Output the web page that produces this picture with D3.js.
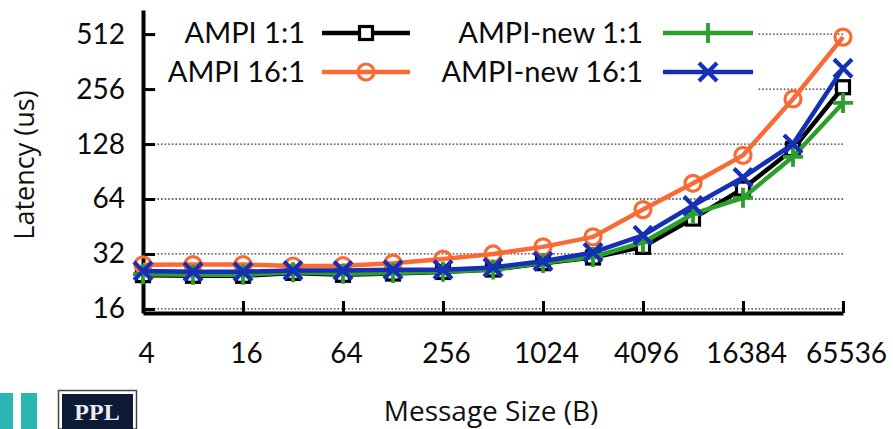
<!DOCTYPE html>
<html>
<head>
<meta charset="utf-8">
<script src="https://cdn.jsdelivr.net/npm/d3@7/dist/d3.min.js"></script>
<style>
  html, body { margin: 0; padding: 0; background: #fff; }
  svg { display: block; }
</style>
</head>
<body>
<svg id="chart" width="893" height="429"></svg>
<script>
// ---- data ----
const sizes = [4, 8, 16, 32, 64, 128, 256, 512, 1024, 2048, 4096, 8192, 16384, 32768, 65536];
const xTicks = [4, 16, 64, 256, 1024, 4096, 16384, 65536];
const yTicks = [16, 32, 64, 128, 256, 512];
const ampi11   = [24.5, 24.3, 24.3, 25.2, 24.6, 25.0, 25.5, 26.3, 28.5, 30.6, 35.0, 50.0, 73.0, 120, 262];
const ampi161  = [27.9, 28.0, 28.0, 27.5, 27.6, 28.5, 30.0, 32.0, 35.0, 39.7, 56.0, 78.0, 111, 226, 493];
const ampiNew11  = [24.8, 24.6, 24.6, 25.4, 24.9, 25.2, 25.6, 26.3, 28.6, 30.8, 37.0, 53.0, 65.0, 109, 215];
const ampiNew161 = [25.8, 25.6, 25.6, 26.0, 26.0, 26.2, 26.2, 27.0, 29.2, 32.6, 40.5, 59.0, 84.0, 128, 333];
const seriesNames = ["AMPI 1:1", "AMPI 16:1", "AMPI-new 1:1", "AMPI-new 16:1"];

const series = [
  { name: seriesNames[0], values: ampi11, color: "#000000", marker: "square" },
  { name: seriesNames[1], values: ampi161, color: "#f96a35", marker: "circle" },
  { name: seriesNames[2], values: ampiNew11, color: "#2c9e2c", marker: "plus" },
  { name: seriesNames[3], values: ampiNew161, color: "#1530b5", marker: "cross" }
];

const svg = d3.select("#chart");
const tickFont = "Lato, 'Open Sans', sans-serif";
const labelFont = "'Open Sans', 'Noto Sans', sans-serif";

const x = d3.scaleLog().base(2).domain([4, 65536]).range([143, 843]);
const y = d3.scaleLog().base(2).domain([15.2, 694]).range([313, 10]);

// grid
const grid = svg.append("g");
grid.selectAll("line").data(yTicks).join("line")
  .attr("x1", x(4)).attr("x2", x(65536))
  .attr("y1", d => y(d)).attr("y2", d => y(d))
  .attr("stroke", "#333").attr("stroke-width", 1.3)
  .attr("stroke-dasharray", "1.6,2");

// legend background
svg.append("rect").attr("x", 156).attr("y", 12).attr("width", 602).attr("height", 88).attr("fill", "#fff");

// axes
const yAxis = d3.axisLeft(y).tickValues(yTicks).tickFormat(d3.format("d"))
  .tickSizeInner(-12).tickSizeOuter(0).tickPadding(18);
const gy = svg.append("g").attr("transform", `translate(${x(4)},0)`).call(yAxis);
const xAxis = d3.axisBottom(x).tickValues(xTicks).tickFormat(d3.format("d"))
  .tickSizeInner(-12).tickSizeOuter(0).tickPadding(30);
const gx = svg.append("g").attr("transform", `translate(0,313)`).call(xAxis);

[gx, gy].forEach(g => {
  g.select(".domain").attr("stroke", "#000").attr("stroke-width", 4);
  g.selectAll(".tick line").attr("stroke", "#000").attr("stroke-width", 3);
  g.selectAll(".tick text").attr("fill", "#0a0a0a").style("font-family", tickFont).style("font-size", "28px");
});
gx.selectAll(".tick text").attr("dx", 3);

// marker drawing
function drawMarker(g, type, color) {
  if (type === "square") {
    g.append("rect").attr("x", -6.5).attr("y", -6.5).attr("width", 13).attr("height", 13)
      .attr("fill", "#fff").attr("stroke", color).attr("stroke-width", 3.2);
  } else if (type === "circle") {
    g.append("circle").attr("r", 8).attr("fill", "none").attr("stroke", color).attr("stroke-width", 3.2);
  } else if (type === "plus") {
    g.append("path").attr("d", "M-10,0H10M0,-10V10").attr("stroke", color).attr("stroke-width", 3.8);
  } else if (type === "cross") {
    g.append("path").attr("d", "M-9,-9L9,9M-9,9L9,-9").attr("stroke", color).attr("stroke-width", 4.2);
  }
}

// series
const line = d3.line().x((d, i) => x(sizes[i])).y(d => y(d));
series.forEach(s => {
  const g = svg.append("g");
  g.append("path").datum(s.values).attr("d", line)
    .attr("fill", "none").attr("stroke", s.color).attr("stroke-width", 4.5).attr("stroke-linejoin", "round");
  s.values.forEach((v, i) => {
    const m = g.append("g").attr("transform", `translate(${x(sizes[i])},${y(v)})`);
    drawMarker(m, s.marker, s.color);
  });
});

// legend
const legendPos = [
  { tx: 305, lx1: 322, lx2: 410, ly: 33 },
  { tx: 305, lx1: 322, lx2: 410, ly: 72 },
  { tx: 643, lx1: 663, lx2: 753, ly: 33 },
  { tx: 643, lx1: 663, lx2: 753, ly: 72 }
];
series.forEach((s, i) => {
  const p = legendPos[i];
  const g = svg.append("g");
  g.append("text").attr("x", p.tx).attr("y", p.ly).attr("dy", "0.36em")
    .attr("text-anchor", "end").style("font-family", tickFont).style("font-size", "29px")
    .attr("fill", "#0a0a0a").text(s.name);
  g.append("line").attr("x1", p.lx1).attr("x2", p.lx2).attr("y1", p.ly).attr("y2", p.ly)
    .attr("stroke", s.color).attr("stroke-width", 4.5);
  const m = g.append("g").attr("transform", `translate(${(p.lx1 + p.lx2) / 2},${p.ly})`);
  drawMarker(m, s.marker, s.color);
});

// axis titles
svg.append("text").attr("transform", "translate(25,165) rotate(-90)")
  .attr("text-anchor", "middle").attr("dy", "0.35em")
  .style("font-family", labelFont).style("font-size", "27px").attr("fill", "#111")
  .text("Latency (us)");
svg.append("text").attr("x", 491).attr("y", 411).attr("dy", "0.35em")
  .attr("text-anchor", "middle")
  .style("font-family", labelFont).style("font-size", "28px").attr("fill", "#111")
  .text("Message Size (B)");

// logo decorations (bottom-left)
const logo = svg.append("g");
logo.append("rect").attr("x", 0).attr("y", 393).attr("width", 13).attr("height", 36).attr("fill", "#2bb6b4");
logo.append("rect").attr("x", 21).attr("y", 393).attr("width", 16).attr("height", 36).attr("fill", "#2bb6b4");
logo.append("rect").attr("x", 58.5).attr("y", 390.5).attr("width", 78).attr("height", 38.5).attr("fill", "#fff").attr("stroke", "#444").attr("stroke-width", 1.5);
logo.append("rect").attr("x", 62).attr("y", 394).attr("width", 71).attr("height", 35).attr("fill", "#0d1a33");
logo.append("text").attr("x", 97).attr("y", 420).attr("text-anchor", "middle")
  .style("font-family", "'Liberation Serif', 'DejaVu Serif', serif").style("font-weight", "bold")
  .style("font-size", "24px").attr("fill", "#e8eef5").text("PPL");
</script>
</body>
</html>
